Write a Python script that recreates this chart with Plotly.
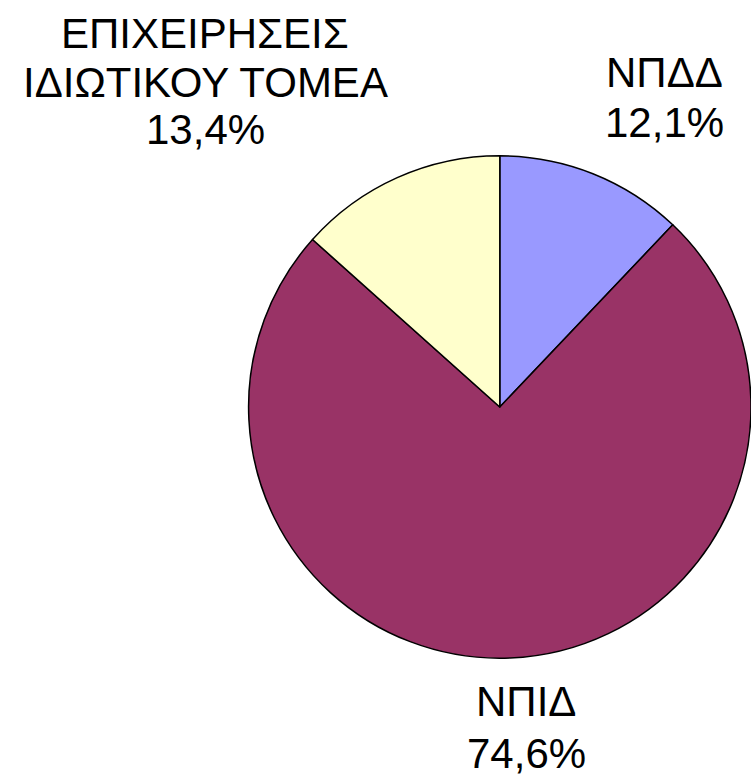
import plotly.graph_objects as go

labels = ["ΝΠΔΔ", "ΝΠΙΔ", "ΕΠΙΧΕΙΡΗΣΕΙΣ<br>ΙΔΙΩΤΙΚΟΥ ΤΟΜΕΑ"]
values = [12.1, 74.6, 13.4]
colors = ["#9999FF", "#993366", "#FFFFCC"]

W, H = 751, 781
# label anchor: (x centre, y of first line, line gap) in pixels
label_pos = [(664, 72.5, 50.5), (526, 701, 52), (205, 34, 48)]
font_size = 42

fig = go.Figure(go.Pie(
    labels=labels, values=values, sort=False, direction="clockwise",
    rotation=0, marker=dict(colors=colors, line=dict(color="black", width=1.5)),
    textinfo="none", hoverinfo="label+percent", showlegend=False,
    domain=dict(x=[0.331, 1.0], y=[1 - 407 / H - 0.34, 1 - 407 / H + 0.34]),
))

annotations = []
for lab, val, (px, py, gap) in zip(labels, values, label_pos):
    lines = lab.split("<br>") + [f"{val:.1f}".replace(".", ",") + "%"]
    for i, t in enumerate(lines):
        annotations.append(dict(
            text=t, x=px / W, y=1 - (py + i * gap) / H, xref="paper", yref="paper",
            xanchor="center", yanchor="middle", showarrow=False,
            font=dict(family="Liberation Sans, Arial, sans-serif", size=font_size, color="black"),
        ))

fig.update_layout(
    width=W, height=H, margin=dict(l=0, r=0, t=0, b=0),
    paper_bgcolor="white", plot_bgcolor="white", annotations=annotations,
)
fig.write_html("out.html", config={"displayModeBar": False},
               post_script="document.body.style.margin='0';")
